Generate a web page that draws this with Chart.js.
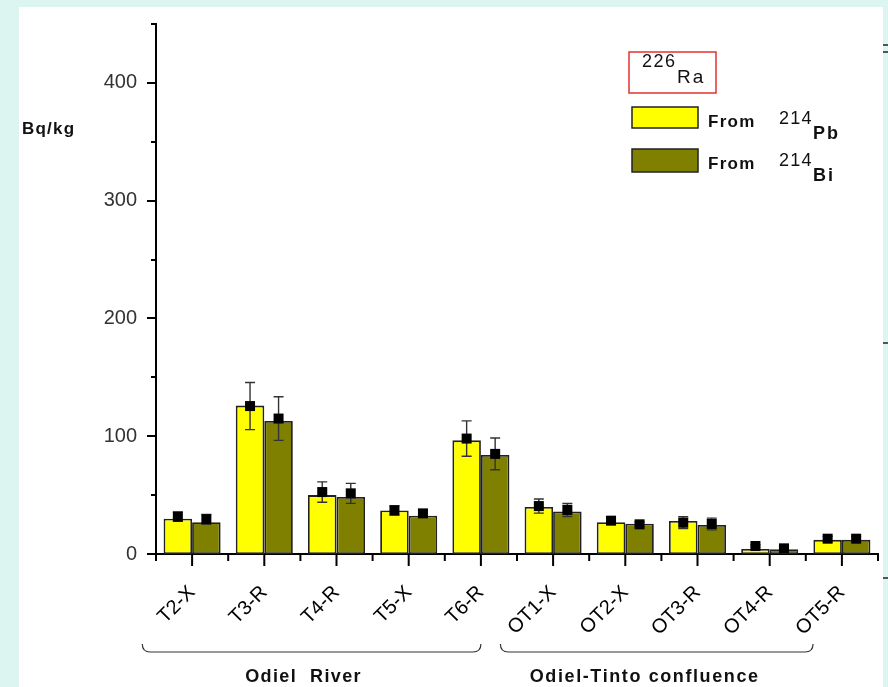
<!DOCTYPE html>
<html>
<head>
<meta charset="utf-8">
<script src="https://cdn.jsdelivr.net/npm/chart.js@4.4.1/dist/chart.umd.min.js"></script>
<style>
  html, body { margin: 0; padding: 0; background: #dcf5f0; }
  #wrap { width: 888px; height: 687px; position: relative; }
</style>
</head>
<body>
<div id="wrap"><canvas id="c" width="888" height="687"></canvas></div>
<script>
// sample sites
var categories = ['T2-X', 'T3-R', 'T4-R', 'T5-X', 'T6-R', 'OT1-X', 'OT2-X', 'OT3-R', 'OT4-R', 'OT5-R'];
// 226Ra (Bq/kg) from 214Pb / 214Bi, bar heights
var pbBars = [30, 126, 50, 37, 96.5, 40, 27, 28, 4.2, 12];
var biBars = [27, 113, 48.5, 32.5, 84, 36, 25.7, 24.6, 4, 12];
// points + error bars
var pbMean = [31.7, 125.6, 52.6, 37, 98, 40.7, 28.3, 26.6, 6.8, 13];
var pbErr = [4, 20, 8.6, 4, 15, 6, 3, 5, 1, 2];
var biMean = [29.5, 115, 51.5, 34.5, 85, 37.4, 25.2, 25.5, 4.8, 13];
var biErr = [4, 18.5, 8.5, 3, 13.5, 5.5, 2, 5, 1, 2];
// site groups
var groups = ['Odiel  River', 'Odiel-Tinto confluence'];
var groupFirst = [0, 5];
var groupLast = [4, 9];
var yMax = 450;

var FONT = '"Liberation Sans", Arial, sans-serif';

function txt(ctx, s, x, y, font, spacing) {
    ctx.font = font;
    ctx.letterSpacing = (spacing || 0) + 'px';
    ctx.fillText(s, x, y);
    ctx.letterSpacing = '0px';
}

var decor = {
    id: 'decor',
    beforeDraw: function (chart) {
        var ctx = chart.ctx;
        ctx.save();
        ctx.fillStyle = '#dcf5f0';
        ctx.fillRect(0, 0, chart.width, chart.height);
        ctx.fillStyle = '#ffffff';
        ctx.fillRect(19, 7, 864, chart.height - 7);
        ctx.restore();
    },
    afterDatasetsDraw: function (chart) {
        var ctx = chart.ctx, y = chart.scales.y;
        var means = [pbMean, biMean], errs = [pbErr, biErr];
        ctx.save();
        for (var d = 0; d < 2; d++) {
            var meta = chart.getDatasetMeta(d);
            meta.data.forEach(function (bar, j) {
                var x = bar.x;
                var yt = y.getPixelForValue(means[d][j] + errs[d][j]);
                var yb = y.getPixelForValue(means[d][j] - errs[d][j]);
                var ym = y.getPixelForValue(means[d][j]);
                ctx.strokeStyle = '#333';
                ctx.lineWidth = 1.4;
                ctx.beginPath();
                ctx.moveTo(x, yt); ctx.lineTo(x, yb);
                ctx.moveTo(x - 5, yt); ctx.lineTo(x + 5, yt);
                ctx.moveTo(x - 5, yb); ctx.lineTo(x + 5, yb);
                ctx.stroke();
                ctx.fillStyle = '#000';
                ctx.fillRect(x - 5, ym - 5, 10, 10);
            });
        }
        ctx.restore();
    },
    afterDraw: function (chart) {
        var ctx = chart.ctx, xs = chart.scales.x, ys = chart.scales.y;
        var area = chart.chartArea;
        ctx.save();
        ctx.strokeStyle = '#000';
        ctx.lineWidth = 2;
        ctx.beginPath();
        // y ticks (major every 100, minor every 50)
        ys.ticks.forEach(function (t) {
            var py = Math.round(ys.getPixelForValue(t.value));
            var len = t.value % 100 === 0 ? 9 : 5;
            ctx.moveTo(area.left, py); ctx.lineTo(area.left - len, py);
        });
        // x ticks: long at site centres, short at boundaries
        var w = (area.right - area.left) / categories.length;
        for (var i = 0; i <= categories.length; i++) {
            var bx = area.left + i * w;
            ctx.moveTo(bx, area.bottom); ctx.lineTo(bx, area.bottom + 7);
            if (i < categories.length) {
                var cx = xs.getPixelForValue(i);
                ctx.moveTo(cx, area.bottom); ctx.lineTo(cx, area.bottom + 12);
            }
        }
        ctx.stroke();

        // axis title
        ctx.fillStyle = '#111';
        ctx.textAlign = 'left';
        ctx.textBaseline = 'alphabetic';
        txt(ctx, 'Bq/kg', 22, 134, 'bold 17px ' + FONT, 1.2);

        // group brackets
        var spans = [[-0.69, 0], [-0.73, -0.4]];
        ctx.strokeStyle = '#333';
        ctx.lineWidth = 1.2;
        for (var g = 0; g < groups.length; g++) {
            var x0 = xs.getPixelForValue(groupFirst[g]) + spans[g][0] * w;
            var x1 = xs.getPixelForValue(groupLast[g]) + spans[g][1] * w;
            var by = area.bottom + 98, r = 8;
            ctx.beginPath();
            ctx.moveTo(x0, by - r);
            ctx.quadraticCurveTo(x0, by, x0 + r, by);
            ctx.lineTo(x1 - r, by);
            ctx.quadraticCurveTo(x1, by, x1, by - r);
            ctx.stroke();
            ctx.textAlign = 'center';
            ctx.fillStyle = '#111';
            var tx = (x0 + x1) / 2 - (g === 0 ? 8 : 12);
            txt(ctx, groups[g], tx, area.bottom + 128, 'bold 18px ' + FONT, g === 0 ? 1.4 : 1.6);
        }

        // legend
        var lx = 629, ly = 52;
        ctx.textAlign = 'left';
        ctx.strokeStyle = '#e53030';
        ctx.lineWidth = 1.5;
        ctx.strokeRect(lx, ly, 87, 41);
        ctx.fillStyle = '#111';
        txt(ctx, '226', lx + 13, ly + 15, '18px ' + FONT, 1.5);
        txt(ctx, 'Ra', lx + 48, ly + 31, '19px ' + FONT, 2);
        var rows = [
            { fill: '#ffff00', top: 107, h: 21, el: 'Pb' },
            { fill: '#808000', top: 149, h: 23, el: 'Bi' }
        ];
        rows.forEach(function (r) {
            ctx.fillStyle = r.fill;
            ctx.fillRect(lx + 3, r.top, 66, r.h);
            ctx.strokeStyle = '#222';
            ctx.lineWidth = 1.5;
            ctx.strokeRect(lx + 3, r.top, 66, r.h);
            ctx.fillStyle = '#111';
            txt(ctx, 'From', lx + 79, r.top + 20, 'bold 17px ' + FONT, 1.3);
            txt(ctx, '214', lx + 150, r.top + 17, '18px ' + FONT, 1.3);
            txt(ctx, r.el, lx + 184, r.top + 32, 'bold 18px ' + FONT, 2);
        });

        // stray ticks of the frame on the right
        ctx.strokeStyle = '#222';
        ctx.lineWidth = 1.5;
        ctx.beginPath();
        [45, 52, 343, 578].forEach(function (py) {
            ctx.moveTo(883, py); ctx.lineTo(888, py);
        });
        ctx.stroke();
        ctx.restore();
    }
};

new Chart(document.getElementById('c'), {
    type: 'bar',
    data: {
        labels: categories,
        datasets: [
            { label: 'From 214Pb', data: pbBars, backgroundColor: '#ffff00',
              borderColor: '#222', borderWidth: 1.8, borderSkipped: false },
            { label: 'From 214Bi', data: biBars, backgroundColor: '#808000',
              borderColor: '#222', borderWidth: 1.8, borderSkipped: false }
        ]
    },
    options: {
        responsive: false,
        animation: false,
        events: [],
        categoryPercentage: 0.79,
        barPercentage: 1.0,
        layout: { padding: { left: 0, top: 24, right: 10, bottom: 0 } },
        plugins: { legend: { display: false }, tooltip: { enabled: false } },
        scales: {
            x: {
                grid: { display: false, drawTicks: false },
                border: { display: true, color: '#000', width: 2 },
                ticks: {
                    color: '#000', font: { family: FONT, size: 20 },
                    minRotation: 45, maxRotation: 45, padding: 27, autoSkip: false
                },
                afterFit: function (s) { s.height = 133; s.paddingLeft = 0; s.paddingRight = 0; }
            },
            y: {
                min: 0, max: yMax,
                grid: { display: false, drawTicks: false },
                border: { display: true, color: '#000', width: 2 },
                ticks: {
                    stepSize: 50, color: '#333', padding: 19,
                    font: { family: FONT, size: 20 },
                    callback: function (v) { return v % 100 === 0 ? v : ''; }
                },
                afterFit: function (s) { s.width = 156; s.paddingTop = 0; s.paddingBottom = 0; }
            }
        }
    },
    plugins: [decor]
});
</script>
</body>
</html>
